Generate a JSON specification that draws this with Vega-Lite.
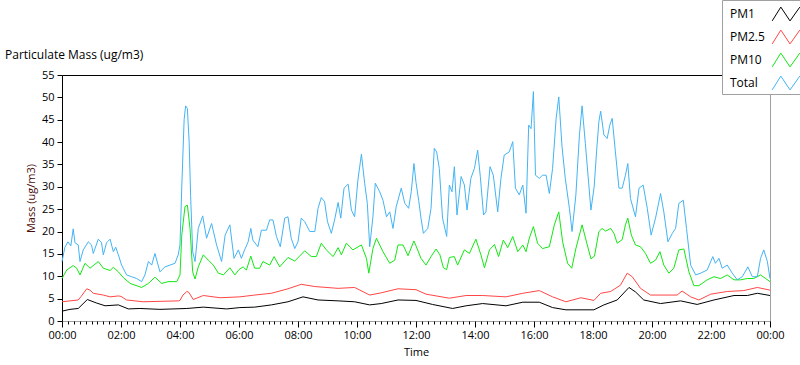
{
 "$schema": "https://vega.github.io/schema/vega-lite/v6.json",
 "width": 708, "height": 246,
 "autosize": {"type": "none"},
 "padding": {"left": 62, "top": 75, "right": 30, "bottom": 44},
 "background": "white",
 "config": {
  "font": "Open Sans",
  "view": {"stroke": "#a0a0a0", "strokeWidth": 1},
  "axis": {"labelFont": "Open Sans", "labelFontSize": 11, "labelColor": "#000", "titleFont": "Open Sans", "titleFontSize": 11, "titleFontWeight": "normal", "titleColor": "#000", "grid": false, "tickColor": "#000", "domainColor": "#000"}
 },
 "title": {"text": "Particulate Mass (ug/m3)", "anchor": "start", "frame": "group", "dx": -57, "dy": 62, "offset": 0, "font": "Open Sans", "fontSize": 12, "fontWeight": "normal", "color": "#000"},
 "data": {"values": [
  {"s":"PM1","t":0,"v":2.2},{"s":"PM1","t":0.27,"v":2.6},{"s":"PM1","t":0.55,"v":2.8},{"s":"PM1","t":0.86,"v":4.8},{"s":"PM1","t":1.18,"v":4.0},{"s":"PM1","t":1.46,"v":3.4},{"s":"PM1","t":1.91,"v":3.6},{"s":"PM1","t":2.25,"v":2.7},{"s":"PM1","t":2.64,"v":2.8},{"s":"PM1","t":3.32,"v":2.6},{"s":"PM1","t":4.23,"v":2.8},{"s":"PM1","t":4.79,"v":3.1},{"s":"PM1","t":5.58,"v":2.7},{"s":"PM1","t":6.03,"v":3.0},{"s":"PM1","t":6.53,"v":3.1},{"s":"PM1","t":7.1,"v":3.6},{"s":"PM1","t":7.66,"v":4.3},{"s":"PM1","t":8.17,"v":5.4},{"s":"PM1","t":8.68,"v":4.7},{"s":"PM1","t":9.36,"v":4.5},{"s":"PM1","t":9.92,"v":4.3},{"s":"PM1","t":10.43,"v":3.6},{"s":"PM1","t":10.82,"v":3.9},{"s":"PM1","t":11.39,"v":4.7},{"s":"PM1","t":12.0,"v":4.6},{"s":"PM1","t":12.56,"v":3.7},{"s":"PM1","t":13.24,"v":2.8},{"s":"PM1","t":13.7,"v":3.4},{"s":"PM1","t":14.26,"v":3.9},{"s":"PM1","t":15.05,"v":3.4},{"s":"PM1","t":15.62,"v":4.2},{"s":"PM1","t":16.18,"v":4.2},{"s":"PM1","t":16.63,"v":3.0},{"s":"PM1","t":17.08,"v":2.5},{"s":"PM1","t":18.03,"v":2.5},{"s":"PM1","t":18.37,"v":3.6},{"s":"PM1","t":18.82,"v":4.7},{"s":"PM1","t":19.22,"v":7.5},{"s":"PM1","t":19.44,"v":6.5},{"s":"PM1","t":19.72,"v":4.7},{"s":"PM1","t":20.29,"v":3.9},{"s":"PM1","t":20.97,"v":4.5},{"s":"PM1","t":21.53,"v":3.7},{"s":"PM1","t":22.1,"v":4.7},{"s":"PM1","t":22.78,"v":5.7},{"s":"PM1","t":23.23,"v":5.7},{"s":"PM1","t":23.57,"v":6.2},{"s":"PM1","t":24,"v":5.7},
  {"s":"PM2.5","t":0,"v":4.3},{"s":"PM2.5","t":0.55,"v":4.7},{"s":"PM2.5","t":0.65,"v":5.5},{"s":"PM2.5","t":0.84,"v":7.2},{"s":"PM2.5","t":0.95,"v":6.9},{"s":"PM2.5","t":1.06,"v":6.2},{"s":"PM2.5","t":1.4,"v":5.8},{"s":"PM2.5","t":1.63,"v":5.4},{"s":"PM2.5","t":1.91,"v":5.6},{"s":"PM2.5","t":2.0,"v":5.5},{"s":"PM2.5","t":2.19,"v":4.7},{"s":"PM2.5","t":2.75,"v":4.3},{"s":"PM2.5","t":3.95,"v":4.5},{"s":"PM2.5","t":4.0,"v":4.6},{"s":"PM2.5","t":4.1,"v":5.8},{"s":"PM2.5","t":4.23,"v":6.6},{"s":"PM2.5","t":4.3,"v":6.4},{"s":"PM2.5","t":4.45,"v":4.8},{"s":"PM2.5","t":4.79,"v":5.7},{"s":"PM2.5","t":5.36,"v":5.2},{"s":"PM2.5","t":6.03,"v":5.4},{"s":"PM2.5","t":6.53,"v":5.8},{"s":"PM2.5","t":7.1,"v":6.2},{"s":"PM2.5","t":7.66,"v":7.2},{"s":"PM2.5","t":8.11,"v":8.2},{"s":"PM2.5","t":8.57,"v":7.7},{"s":"PM2.5","t":9.36,"v":7.3},{"s":"PM2.5","t":9.92,"v":7.5},{"s":"PM2.5","t":10.43,"v":5.8},{"s":"PM2.5","t":10.82,"v":6.3},{"s":"PM2.5","t":11.39,"v":7.2},{"s":"PM2.5","t":12.0,"v":7.0},{"s":"PM2.5","t":12.34,"v":6.0},{"s":"PM2.5","t":13.13,"v":5.1},{"s":"PM2.5","t":13.7,"v":5.7},{"s":"PM2.5","t":14.26,"v":5.7},{"s":"PM2.5","t":15.05,"v":5.4},{"s":"PM2.5","t":15.62,"v":6.2},{"s":"PM2.5","t":16.18,"v":6.8},{"s":"PM2.5","t":16.63,"v":5.4},{"s":"PM2.5","t":17.08,"v":4.3},{"s":"PM2.5","t":17.59,"v":5.2},{"s":"PM2.5","t":18.03,"v":4.6},{"s":"PM2.5","t":18.26,"v":6.2},{"s":"PM2.5","t":18.6,"v":6.6},{"s":"PM2.5","t":18.93,"v":8.0},{"s":"PM2.5","t":19.16,"v":10.7},{"s":"PM2.5","t":19.33,"v":9.9},{"s":"PM2.5","t":19.61,"v":7.3},{"s":"PM2.5","t":19.95,"v":5.8},{"s":"PM2.5","t":20.85,"v":5.8},{"s":"PM2.5","t":21.02,"v":6.7},{"s":"PM2.5","t":21.31,"v":5.4},{"s":"PM2.5","t":21.59,"v":4.7},{"s":"PM2.5","t":21.99,"v":6.0},{"s":"PM2.5","t":22.55,"v":6.6},{"s":"PM2.5","t":23.11,"v":6.8},{"s":"PM2.5","t":23.57,"v":7.5},{"s":"PM2.5","t":24,"v":6.9},
  {"s":"PM10","t":0,"v":9.5},{"s":"PM10","t":0.16,"v":11.4},{"s":"PM10","t":0.38,"v":12.4},{"s":"PM10","t":0.5,"v":11.8},{"s":"PM10","t":0.61,"v":10.3},{"s":"PM10","t":0.78,"v":12.9},{"s":"PM10","t":0.95,"v":11.8},{"s":"PM10","t":1.23,"v":13.3},{"s":"PM10","t":1.4,"v":11.8},{"s":"PM10","t":1.63,"v":11.3},{"s":"PM10","t":1.74,"v":12.0},{"s":"PM10","t":1.91,"v":11.0},{"s":"PM10","t":2.08,"v":9.7},{"s":"PM10","t":2.31,"v":8.4},{"s":"PM10","t":2.7,"v":7.5},{"s":"PM10","t":2.93,"v":8.4},{"s":"PM10","t":3.15,"v":9.8},{"s":"PM10","t":3.38,"v":8.4},{"s":"PM10","t":3.6,"v":8.8},{"s":"PM10","t":3.89,"v":8.8},{"s":"PM10","t":4.0,"v":10.3},{"s":"PM10","t":4.06,"v":19.2},{"s":"PM10","t":4.17,"v":25.6},{"s":"PM10","t":4.25,"v":25.9},{"s":"PM10","t":4.34,"v":20.7},{"s":"PM10","t":4.43,"v":11.0},{"s":"PM10","t":4.51,"v":9.4},{"s":"PM10","t":4.62,"v":12.1},{"s":"PM10","t":4.79,"v":14.8},{"s":"PM10","t":4.96,"v":13.6},{"s":"PM10","t":5.13,"v":12.5},{"s":"PM10","t":5.3,"v":10.7},{"s":"PM10","t":5.47,"v":10.3},{"s":"PM10","t":5.69,"v":11.9},{"s":"PM10","t":5.86,"v":10.3},{"s":"PM10","t":6.0,"v":11.5},{"s":"PM10","t":6.14,"v":12.1},{"s":"PM10","t":6.25,"v":11.4},{"s":"PM10","t":6.4,"v":14.5},{"s":"PM10","t":6.53,"v":11.8},{"s":"PM10","t":6.7,"v":11.8},{"s":"PM10","t":6.81,"v":13.3},{"s":"PM10","t":7.04,"v":12.5},{"s":"PM10","t":7.19,"v":14.4},{"s":"PM10","t":7.38,"v":12.1},{"s":"PM10","t":7.66,"v":14.2},{"s":"PM10","t":7.89,"v":13.4},{"s":"PM10","t":8.23,"v":15.7},{"s":"PM10","t":8.45,"v":14.4},{"s":"PM10","t":8.62,"v":14.4},{"s":"PM10","t":8.79,"v":17.4},{"s":"PM10","t":8.96,"v":15.9},{"s":"PM10","t":9.19,"v":14.4},{"s":"PM10","t":9.36,"v":16.4},{"s":"PM10","t":9.47,"v":14.8},{"s":"PM10","t":9.64,"v":17.4},{"s":"PM10","t":9.86,"v":15.9},{"s":"PM10","t":10.15,"v":17.0},{"s":"PM10","t":10.32,"v":14.0},{"s":"PM10","t":10.4,"v":10.7},{"s":"PM10","t":10.54,"v":16.2},{"s":"PM10","t":10.66,"v":18.5},{"s":"PM10","t":10.88,"v":15.5},{"s":"PM10","t":11.11,"v":12.9},{"s":"PM10","t":11.28,"v":13.6},{"s":"PM10","t":11.39,"v":17.0},{"s":"PM10","t":11.56,"v":17.0},{"s":"PM10","t":11.73,"v":14.6},{"s":"PM10","t":11.93,"v":17.9},{"s":"PM10","t":12.0,"v":16.8},{"s":"PM10","t":12.17,"v":14.0},{"s":"PM10","t":12.34,"v":12.5},{"s":"PM10","t":12.51,"v":14.4},{"s":"PM10","t":12.68,"v":16.1},{"s":"PM10","t":12.81,"v":14.8},{"s":"PM10","t":12.93,"v":11.9},{"s":"PM10","t":13.04,"v":11.5},{"s":"PM10","t":13.13,"v":14.2},{"s":"PM10","t":13.3,"v":14.4},{"s":"PM10","t":13.41,"v":12.5},{"s":"PM10","t":13.64,"v":15.9},{"s":"PM10","t":13.81,"v":15.1},{"s":"PM10","t":14.03,"v":18.3},{"s":"PM10","t":14.2,"v":14.8},{"s":"PM10","t":14.32,"v":11.9},{"s":"PM10","t":14.49,"v":15.9},{"s":"PM10","t":14.66,"v":17.1},{"s":"PM10","t":14.8,"v":14.4},{"s":"PM10","t":14.96,"v":18.1},{"s":"PM10","t":15.11,"v":16.4},{"s":"PM10","t":15.28,"v":18.9},{"s":"PM10","t":15.45,"v":15.5},{"s":"PM10","t":15.62,"v":17.0},{"s":"PM10","t":15.73,"v":15.5},{"s":"PM10","t":15.84,"v":18.5},{"s":"PM10","t":15.98,"v":21.1},{"s":"PM10","t":16.12,"v":17.4},{"s":"PM10","t":16.29,"v":16.2},{"s":"PM10","t":16.52,"v":16.6},{"s":"PM10","t":16.69,"v":21.5},{"s":"PM10","t":16.84,"v":24.4},{"s":"PM10","t":16.97,"v":17.7},{"s":"PM10","t":17.14,"v":12.9},{"s":"PM10","t":17.28,"v":11.8},{"s":"PM10","t":17.42,"v":16.2},{"s":"PM10","t":17.63,"v":21.5},{"s":"PM10","t":17.79,"v":17.4},{"s":"PM10","t":17.93,"v":13.9},{"s":"PM10","t":18.05,"v":14.5},{"s":"PM10","t":18.2,"v":20.0},{"s":"PM10","t":18.31,"v":20.7},{"s":"PM10","t":18.43,"v":20.1},{"s":"PM10","t":18.6,"v":20.7},{"s":"PM10","t":18.71,"v":19.6},{"s":"PM10","t":18.82,"v":17.4},{"s":"PM10","t":18.99,"v":18.2},{"s":"PM10","t":19.1,"v":21.5},{"s":"PM10","t":19.18,"v":23.0},{"s":"PM10","t":19.3,"v":19.2},{"s":"PM10","t":19.44,"v":17.0},{"s":"PM10","t":19.61,"v":16.6},{"s":"PM10","t":19.78,"v":15.1},{"s":"PM10","t":19.95,"v":12.9},{"s":"PM10","t":20.12,"v":13.6},{"s":"PM10","t":20.27,"v":15.5},{"s":"PM10","t":20.4,"v":12.5},{"s":"PM10","t":20.57,"v":10.7},{"s":"PM10","t":20.74,"v":11.8},{"s":"PM10","t":20.91,"v":15.9},{"s":"PM10","t":21.08,"v":16.1},{"s":"PM10","t":21.25,"v":11.0},{"s":"PM10","t":21.42,"v":7.9},{"s":"PM10","t":21.59,"v":7.9},{"s":"PM10","t":21.87,"v":9.2},{"s":"PM10","t":22.1,"v":9.9},{"s":"PM10","t":22.32,"v":9.5},{"s":"PM10","t":22.55,"v":10.3},{"s":"PM10","t":22.78,"v":9.2},{"s":"PM10","t":23.0,"v":9.2},{"s":"PM10","t":23.23,"v":9.5},{"s":"PM10","t":23.45,"v":9.5},{"s":"PM10","t":23.68,"v":10.3},{"s":"PM10","t":23.85,"v":9.5},{"s":"PM10","t":24,"v":8.8},
  {"s":"Total","t":0,"v":13.3},{"s":"Total","t":0.1,"v":16.5},{"s":"Total","t":0.2,"v":17.7},{"s":"Total","t":0.3,"v":16.8},{"s":"Total","t":0.38,"v":20.6},{"s":"Total","t":0.44,"v":17.5},{"s":"Total","t":0.55,"v":17.0},{"s":"Total","t":0.61,"v":13.3},{"s":"Total","t":0.72,"v":15.9},{"s":"Total","t":0.89,"v":17.7},{"s":"Total","t":1.0,"v":17.0},{"s":"Total","t":1.06,"v":15.1},{"s":"Total","t":1.23,"v":18.3},{"s":"Total","t":1.34,"v":17.5},{"s":"Total","t":1.4,"v":14.8},{"s":"Total","t":1.51,"v":17.5},{"s":"Total","t":1.63,"v":18.3},{"s":"Total","t":1.74,"v":15.5},{"s":"Total","t":1.82,"v":16.5},{"s":"Total","t":1.91,"v":14.8},{"s":"Total","t":2.02,"v":12.5},{"s":"Total","t":2.19,"v":10.3},{"s":"Total","t":2.36,"v":9.9},{"s":"Total","t":2.53,"v":9.5},{"s":"Total","t":2.7,"v":8.8},{"s":"Total","t":2.81,"v":10.3},{"s":"Total","t":2.93,"v":13.3},{"s":"Total","t":3.04,"v":12.5},{"s":"Total","t":3.15,"v":15.1},{"s":"Total","t":3.32,"v":11.0},{"s":"Total","t":3.49,"v":12.1},{"s":"Total","t":3.66,"v":12.5},{"s":"Total","t":3.83,"v":12.9},{"s":"Total","t":3.94,"v":14.8},{"s":"Total","t":4.0,"v":17.0},{"s":"Total","t":4.06,"v":30.0},{"s":"Total","t":4.14,"v":45.0},{"s":"Total","t":4.19,"v":48.1},{"s":"Total","t":4.25,"v":47.5},{"s":"Total","t":4.31,"v":40.0},{"s":"Total","t":4.36,"v":28.0},{"s":"Total","t":4.43,"v":15.5},{"s":"Total","t":4.51,"v":13.3},{"s":"Total","t":4.62,"v":20.7},{"s":"Total","t":4.77,"v":23.5},{"s":"Total","t":4.9,"v":18.5},{"s":"Total","t":5.07,"v":21.8},{"s":"Total","t":5.24,"v":17.0},{"s":"Total","t":5.41,"v":13.3},{"s":"Total","t":5.53,"v":19.2},{"s":"Total","t":5.69,"v":21.5},{"s":"Total","t":5.83,"v":14.0},{"s":"Total","t":5.98,"v":15.9},{"s":"Total","t":6.08,"v":14.0},{"s":"Total","t":6.19,"v":15.9},{"s":"Total","t":6.31,"v":17.7},{"s":"Total","t":6.4,"v":20.7},{"s":"Total","t":6.47,"v":18.1},{"s":"Total","t":6.64,"v":16.6},{"s":"Total","t":6.76,"v":20.3},{"s":"Total","t":6.93,"v":20.3},{"s":"Total","t":7.04,"v":22.6},{"s":"Total","t":7.15,"v":22.6},{"s":"Total","t":7.27,"v":18.9},{"s":"Total","t":7.4,"v":16.6},{"s":"Total","t":7.55,"v":23.0},{"s":"Total","t":7.66,"v":23.3},{"s":"Total","t":7.77,"v":18.5},{"s":"Total","t":7.89,"v":16.2},{"s":"Total","t":8.0,"v":17.7},{"s":"Total","t":8.11,"v":23.0},{"s":"Total","t":8.23,"v":22.2},{"s":"Total","t":8.4,"v":20.0},{"s":"Total","t":8.57,"v":20.0},{"s":"Total","t":8.68,"v":25.2},{"s":"Total","t":8.79,"v":27.6},{"s":"Total","t":8.9,"v":26.7},{"s":"Total","t":9.0,"v":22.2},{"s":"Total","t":9.13,"v":19.6},{"s":"Total","t":9.24,"v":22.6},{"s":"Total","t":9.36,"v":26.5},{"s":"Total","t":9.45,"v":23.0},{"s":"Total","t":9.56,"v":29.7},{"s":"Total","t":9.7,"v":30.6},{"s":"Total","t":9.81,"v":24.8},{"s":"Total","t":9.92,"v":23.3},{"s":"Total","t":10.03,"v":31.5},{"s":"Total","t":10.15,"v":37.3},{"s":"Total","t":10.26,"v":30.8},{"s":"Total","t":10.35,"v":26.3},{"s":"Total","t":10.43,"v":16.6},{"s":"Total","t":10.54,"v":23.3},{"s":"Total","t":10.62,"v":30.8},{"s":"Total","t":10.77,"v":28.9},{"s":"Total","t":10.88,"v":27.0},{"s":"Total","t":11.0,"v":23.3},{"s":"Total","t":11.11,"v":24.4},{"s":"Total","t":11.22,"v":20.7},{"s":"Total","t":11.33,"v":25.6},{"s":"Total","t":11.5,"v":29.7},{"s":"Total","t":11.62,"v":26.3},{"s":"Total","t":11.75,"v":25.2},{"s":"Total","t":11.84,"v":28.9},{"s":"Total","t":11.93,"v":35.2},{"s":"Total","t":12.0,"v":31.0},{"s":"Total","t":12.09,"v":27.0},{"s":"Total","t":12.17,"v":23.0},{"s":"Total","t":12.25,"v":19.6},{"s":"Total","t":12.4,"v":20.7},{"s":"Total","t":12.51,"v":25.2},{"s":"Total","t":12.62,"v":38.6},{"s":"Total","t":12.7,"v":37.8},{"s":"Total","t":12.79,"v":34.1},{"s":"Total","t":12.9,"v":23.0},{"s":"Total","t":13.04,"v":18.9},{"s":"Total","t":13.13,"v":30.4},{"s":"Total","t":13.22,"v":28.9},{"s":"Total","t":13.3,"v":34.5},{"s":"Total","t":13.39,"v":23.7},{"s":"Total","t":13.53,"v":32.3},{"s":"Total","t":13.64,"v":30.4},{"s":"Total","t":13.73,"v":24.8},{"s":"Total","t":13.86,"v":31.9},{"s":"Total","t":13.98,"v":34.1},{"s":"Total","t":14.09,"v":38.2},{"s":"Total","t":14.18,"v":32.3},{"s":"Total","t":14.29,"v":23.7},{"s":"Total","t":14.37,"v":24.4},{"s":"Total","t":14.51,"v":34.5},{"s":"Total","t":14.62,"v":32.6},{"s":"Total","t":14.77,"v":24.4},{"s":"Total","t":14.88,"v":31.9},{"s":"Total","t":14.99,"v":37.1},{"s":"Total","t":15.16,"v":37.8},{"s":"Total","t":15.28,"v":40.1},{"s":"Total","t":15.37,"v":29.7},{"s":"Total","t":15.5,"v":28.2},{"s":"Total","t":15.62,"v":30.4},{"s":"Total","t":15.73,"v":24.1},{"s":"Total","t":15.82,"v":43.8},{"s":"Total","t":15.9,"v":43.0},{"s":"Total","t":15.98,"v":51.3},{"s":"Total","t":16.05,"v":32.6},{"s":"Total","t":16.18,"v":31.9},{"s":"Total","t":16.29,"v":32.6},{"s":"Total","t":16.41,"v":32.6},{"s":"Total","t":16.52,"v":28.5},{"s":"Total","t":16.63,"v":34.1},{"s":"Total","t":16.75,"v":45.3},{"s":"Total","t":16.84,"v":50.1},{"s":"Total","t":16.95,"v":39.0},{"s":"Total","t":17.06,"v":31.9},{"s":"Total","t":17.2,"v":25.2},{"s":"Total","t":17.29,"v":20.0},{"s":"Total","t":17.42,"v":28.2},{"s":"Total","t":17.54,"v":41.6},{"s":"Total","t":17.63,"v":48.1},{"s":"Total","t":17.74,"v":39.7},{"s":"Total","t":17.85,"v":31.1},{"s":"Total","t":17.93,"v":24.8},{"s":"Total","t":18.04,"v":30.0},{"s":"Total","t":18.12,"v":37.8},{"s":"Total","t":18.2,"v":44.6},{"s":"Total","t":18.26,"v":46.9},{"s":"Total","t":18.37,"v":41.6},{"s":"Total","t":18.48,"v":40.8},{"s":"Total","t":18.57,"v":43.8},{"s":"Total","t":18.65,"v":45.3},{"s":"Total","t":18.76,"v":37.8},{"s":"Total","t":18.88,"v":29.7},{"s":"Total","t":18.99,"v":29.7},{"s":"Total","t":19.1,"v":32.6},{"s":"Total","t":19.18,"v":35.2},{"s":"Total","t":19.27,"v":27.4},{"s":"Total","t":19.44,"v":23.3},{"s":"Total","t":19.56,"v":29.7},{"s":"Total","t":19.7,"v":30.4},{"s":"Total","t":19.84,"v":25.2},{"s":"Total","t":19.97,"v":19.2},{"s":"Total","t":20.12,"v":23.0},{"s":"Total","t":20.29,"v":28.5},{"s":"Total","t":20.4,"v":24.4},{"s":"Total","t":20.54,"v":17.7},{"s":"Total","t":20.69,"v":19.6},{"s":"Total","t":20.8,"v":20.7},{"s":"Total","t":20.91,"v":26.3},{"s":"Total","t":21.06,"v":27.0},{"s":"Total","t":21.17,"v":20.7},{"s":"Total","t":21.31,"v":12.5},{"s":"Total","t":21.48,"v":10.3},{"s":"Total","t":21.65,"v":10.7},{"s":"Total","t":21.87,"v":11.4},{"s":"Total","t":22.06,"v":14.4},{"s":"Total","t":22.15,"v":12.9},{"s":"Total","t":22.27,"v":14.0},{"s":"Total","t":22.38,"v":11.8},{"s":"Total","t":22.55,"v":12.5},{"s":"Total","t":22.72,"v":10.7},{"s":"Total","t":22.89,"v":9.2},{"s":"Total","t":23.06,"v":9.9},{"s":"Total","t":23.25,"v":12.1},{"s":"Total","t":23.4,"v":9.9},{"s":"Total","t":23.57,"v":9.9},{"s":"Total","t":23.68,"v":14.0},{"s":"Total","t":23.79,"v":15.9},{"s":"Total","t":23.91,"v":13.3},{"s":"Total","t":24,"v":9.5}
 ]},
 "layer": [
  {
   "mark": {"type": "line", "strokeWidth": 1},
   "encoding": {
    "x": {"field": "t", "type": "quantitative", "scale": {"domain": [0, 24], "nice": false, "zero": false},
     "axis": {"orient": "bottom", "values": [0,2,4,6,8,10,12,14,16,18,20,22,24], "labelExpr": "datum.value == 24 ? '00:00' : (datum.value < 10 ? '0' : '') + datum.value + ':00'", "tickSize": 6, "labelPadding": 2, "domainColor": "#a0a0a0", "title": "Time", "titlePadding": 6, "labelFlush": false}},
    "y": {"field": "v", "type": "quantitative", "scale": {"domain": [0, 55], "nice": false},
     "axis": {"values": [0,5,10,15,20,25,30,35,40,45,50,55], "tickSize": 5, "labelPadding": 3, "title": "Mass (ug/m3)", "titleColor": "#4a0a0a", "titlePadding": 5}},
    "color": {"field": "s", "type": "nominal", "scale": {"domain": ["PM1", "PM2.5", "PM10", "Total"], "range": ["#000000", "#ff4646", "#12e812", "#42b4f4"]},
     "legend": {"orient": "none", "legendX": 660, "legendY": -75, "title": null, "symbolType": "M-1.2,0.6L-0.45,-0.6L0.35,0.6L1.2,-0.6", "symbolSize": 529, "symbolStrokeWidth": 1, "symbolFillColor": "transparent", "symbolOffset": 50, "labelOffset": -68, "labelFont": "Open Sans", "labelFontSize": 12, "labelColor": "#000", "fillColor": "white", "strokeColor": "#a0a0a0", "padding": 2, "rowPadding": 2}}
   }
  },
  {
   "data": {"values": [{}]},
   "mark": {"type": "rule", "opacity": 0},
   "encoding": {"x": {"datum": 0, "type": "quantitative", "axis": {"orient": "bottom", "values": [0,0.2,0.4,0.6,0.8,1,1.2,1.4,1.6,1.8,2,2.2,2.4,2.6,2.8,3,3.2,3.4,3.6,3.8,4,4.2,4.4,4.6,4.8,5,5.2,5.4,5.6,5.8,6,6.2,6.4,6.6,6.8,7,7.2,7.4,7.6,7.8,8,8.2,8.4,8.6,8.8,9,9.2,9.4,9.6,9.8,10,10.2,10.4,10.6,10.8,11,11.2,11.4,11.6,11.8,12,12.2,12.4,12.6,12.8,13,13.2,13.4,13.6,13.8,14,14.2,14.4,14.6,14.8,15,15.2,15.4,15.6,15.8,16,16.2,16.4,16.6,16.8,17,17.2,17.4,17.6,17.8,18,18.2,18.4,18.6,18.8,19,19.2,19.4,19.6,19.8,20,20.2,20.4,20.6,20.8,21,21.2,21.4,21.6,21.8,22,22.2,22.4,22.6,22.8,23,23.2,23.4,23.6,23.8,24], "labels": false, "tickSize": 3, "domain": false, "title": null}}}
  },
  {
   "data": {"values": [{}]},
   "mark": {"type": "rule", "opacity": 0},
   "encoding": {"x": {"datum": 0, "type": "quantitative", "axis": {"orient": "top", "labels": false, "ticks": false, "domain": true, "domainColor": "#000", "title": null}}}
  }
 ],
 "resolve": {"axis": {"x": "independent"}}
}
